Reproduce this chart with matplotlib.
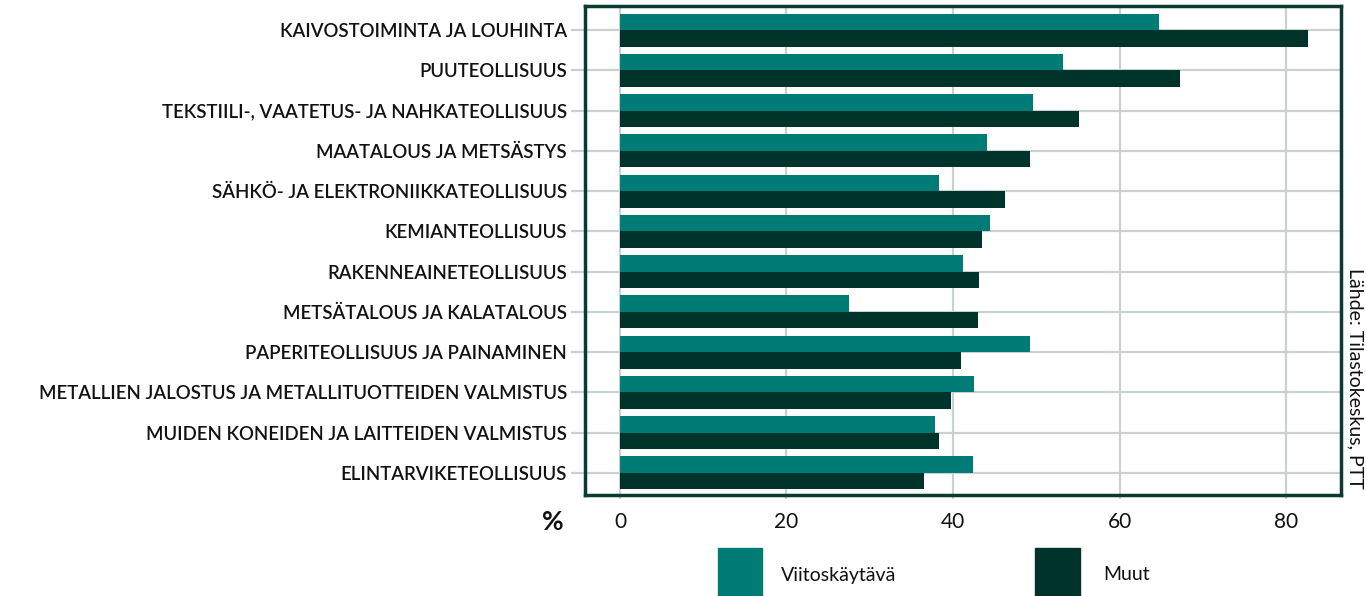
import matplotlib
matplotlib.use("Agg")
import matplotlib.pyplot as plt
import numpy as np
from matplotlib.patches import Rectangle

plt.rcParams['font.family'] = ['Lato', 'DejaVu Sans']

categories = [
    "KAIVOSTOIMINTA JA LOUHINTA",
    "PUUTEOLLISUUS",
    "TEKSTIILI-, VAATETUS- JA NAHKATEOLLISUUS",
    "MAATALOUS JA METSÄSTYS",
    "SÄHKÖ- JA ELEKTRONIIKKATEOLLISUUS",
    "KEMIANTEOLLISUUS",
    "RAKENNEAINETEOLLISUUS",
    "METSÄTALOUS JA KALATALOUS",
    "PAPERITEOLLISUUS JA PAINAMINEN",
    "METALLIEN JALOSTUS JA METALLITUOTTEIDEN VALMISTUS",
    "MUIDEN KONEIDEN JA LAITTEIDEN VALMISTUS",
    "ELINTARVIKETEOLLISUUS",
]
viitoskaytava = [64.8, 53.2, 49.6, 44.1, 38.3, 44.5, 41.2, 27.5, 49.2, 42.5, 37.8, 42.4]
muut = [82.6, 67.3, 55.1, 49.3, 46.2, 43.5, 43.1, 43.0, 41.0, 39.7, 38.3, 36.5]
series_names = ["Viitoskäytävä", "Muut"]
xticks = [0, 20, 40, 60, 80]

TEAL = "#007B76"
DARK = "#00332A"
GRID = "#c9d2ce"
BORDER = "#0b3a2f"
TEXT = "#111111"

W, H = 1366, 596
fig = plt.figure(figsize=(W / 100, H / 100), dpi=100)
ax = fig.add_axes([585 / W, 1 - 495 / H, (1341 - 585) / W, (495 - 6) / H])

y = np.arange(len(categories))
bh = 0.41
ax.barh(y - bh / 2, viitoskaytava, height=bh, color=TEAL, zorder=3)
ax.barh(y + bh / 2, muut, height=bh, color=DARK, zorder=3)

ax.set_xlim(-4.2, 86.6)
ax.set_ylim(len(categories) - 1 + 0.55, -0.6)
ax.set_xticks(xticks)
ax.set_xticklabels([str(t) for t in xticks])
ax.set_yticks(y)
ax.set_yticklabels(categories, fontweight='semibold')

ax.grid(True, color=GRID, linewidth=1.6, zorder=0)
ax.set_axisbelow(True)
for s in ax.spines.values():
    s.set_color(BORDER)
    s.set_linewidth(2.5)
    s.set_zorder(5)

ax.tick_params(axis='y', length=10, width=1.6, color=GRID, pad=3,
               labelsize=13.4, labelcolor=TEXT)
ax.tick_params(axis='x', length=3, width=1.6, color=GRID, pad=9,
               labelsize=15, labelcolor=TEXT)

fig.text(553 / W, 1 - 522 / H, "%", fontsize=19, fontweight='bold',
         ha='center', va='center', color=TEXT)

# legend
fig.patches.append(Rectangle((718 / W, 0), 44 / W, 48 / H, transform=fig.transFigure,
                             color=TEAL, figure=fig))
fig.patches.append(Rectangle((1035 / W, 0), 45 / W, 48 / H, transform=fig.transFigure,
                             color=DARK, figure=fig))
fig.text(781 / W, 1 - 575 / H, series_names[0], fontsize=14, ha='left', va='center', color=TEXT)
fig.text(1103 / W, 1 - 575 / H, series_names[1], fontsize=14, ha='left', va='center', color=TEXT)

fig.text(1350 / W, 1 - 268 / H, "Lähde: Tilastokeskus, PTT", fontsize=14, rotation=-90,
         ha='left', va='baseline', rotation_mode='anchor', color=TEXT)

fig.savefig("out.png", dpi=100)
